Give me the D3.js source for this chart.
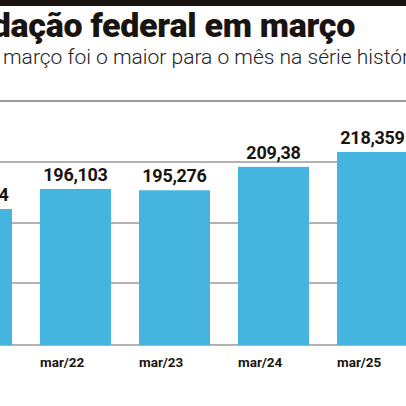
<!DOCTYPE html><html><head><meta charset="utf-8"><script src="https://d3js.org/d3.v7.min.js"></script>
<style>body{margin:0;background:#fff}</style></head><body><svg id="c" width="406" height="406"></svg>
<script>
const categories=["mar/21","mar/22","mar/23","mar/24","mar/25"];
const values=[184.0,196.103,195.276,209.38,218.359];
const labels=["184,424","196,103","195,276","209,38","218,359"];
const gridValues=[139.5,175.6,212.3];
const svg=d3.select("#c");
svg.append("rect").attr("x",0).attr("y",0).attr("width",406).attr("height",6).attr("fill","#1a1410");
svg.append("text").attr("x",355).attr("y",37).attr("text-anchor","end").attr("font-family","Roboto").attr("font-weight",900).attr("font-size",34).attr("fill","#1a1410").attr("letter-spacing","-0.3").text("Arrecadação federal em março");
svg.append("text").attr("x",3).attr("y",64).attr("font-family","Roboto").attr("font-weight",300).attr("font-size",21).attr("fill","#222").text("março foi o maior para o mês na série histórica");
svg.append("line").attr("x1",0).attr("x2",406).attr("y1",101).attr("y2",101).attr("stroke","#999").attr("stroke-width",2);
const x=d3.scaleBand().domain(categories).range([-73,422]).padding(0);
const inset=14;
const y=d3.scaleLinear().domain([102.2,212.3]).range([345,162]);
gridValues.forEach(v=>svg.append("line").attr("x1",0).attr("x2",406).attr("y1",y(v)).attr("y2",y(v)).attr("stroke","#999").attr("stroke-width",1.5));
svg.append("line").attr("x1",0).attr("x2",406).attr("y1",y(102.2)).attr("y2",y(102.2)).attr("stroke","#999").attr("stroke-width",1.5);
svg.selectAll("rect.b").data(values).enter().append("rect").attr("class","b")
 .attr("x",(d,i)=>x(categories[i])+inset).attr("width",x.bandwidth()-2*inset).attr("y",d=>y(d)).attr("height",d=>y(102.2)-y(d)).attr("fill","#45b5df");
svg.selectAll("text.v").data(values).enter().append("text").attr("class","v")
 .attr("x",(d,i)=>x(categories[i])+x.bandwidth()/2).attr("y",d=>y(d)-8).attr("text-anchor","middle")
 .attr("font-family","Roboto").attr("font-weight",700).attr("font-size",18).attr("fill","#1a1410").attr("letter-spacing","-0.3").text((d,i)=>labels[i]);
svg.selectAll("text.c").data(categories).enter().append("text").attr("class","c")
 .attr("x",d=>x(d)+inset).attr("y",367).attr("text-anchor","start")
 .attr("font-family","Roboto").attr("font-weight",700).attr("font-size",13.5).attr("fill","#1a1410").text(d=>d);
</script></body></html>
